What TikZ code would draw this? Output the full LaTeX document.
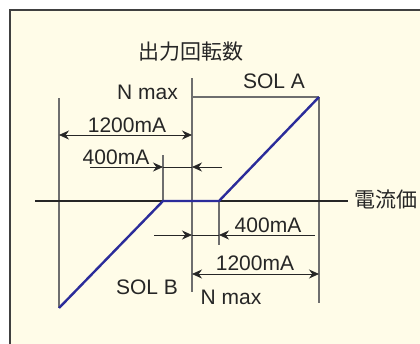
\documentclass[tikz,border=0pt]{standalone}
\usepackage{fontspec}
\setmainfont{Liberation Sans}
\newfontfamily\cjk{Noto Sans CJK JP}
\usetikzlibrary{arrows.meta}
\definecolor{bgyellow}{HTML}{FFFCE8}
\definecolor{guide}{HTML}{6E6E6E}
\definecolor{curve}{HTML}{2B2C9A}
\tikzset{
  lbl/.style={inner sep=0pt, font=\fontsize{21}{25}\selectfont, text=black!85},
  guideline/.style={draw=guide, line width=1.3pt},
  dimline/.style={draw=black!85, line width=0.8pt},
  tip/.style={-{Stealth[length=10pt,width=9pt]}},
  twotip/.style={{Stealth[length=10pt,width=9pt]}-{Stealth[length=10pt,width=9pt]}},
}
\begin{document}
\begin{tikzpicture}[x=1pt,y=-1pt]
\useasboundingbox (0,0) rectangle (420,343);
\fill[white] (0,0) rectangle (420,343);
\begin{scope}
\clip (0,0) rectangle (420,343);
\fill[bgyellow] (10,10) rectangle (440,360);
\draw[black!75, line width=1.6pt] (10,360) -- (10,10) -- (440,10);
\end{scope}
% coordinates
\coordinate (axL) at (35,201);
\coordinate (axR) at (348,201);
\coordinate (cT) at (192,78);
\coordinate (cB) at (192,292);
\coordinate (top) at (319,97);
\coordinate (topL) at (192,97);
\coordinate (rB) at (319,303);
\coordinate (lT) at (59,98);
\coordinate (bot) at (59,308);
\coordinate (p1) at (163,201);
\coordinate (p2) at (219,201);
\coordinate (p1T) at (163,155);
\coordinate (p2B) at (219,245);
% guide lines
\draw[guideline] (cT) -- (cB);
\draw[guideline] (topL) -- (top);
\draw[guideline] (top) -- (rB);
\draw[guideline] (lT) -- (bot);
\draw[guideline] (p1T) -- (p1);
\draw[guideline] (p2) -- (p2B);
\draw[draw=black!85, line width=1.1pt] (axL) -- (axR);
% curve
\draw[curve, line width=2.4pt] (bot) -- (p1) -- (p2) -- (top);
% dimension arrows
\coordinate (d1a) at (59,135); \coordinate (d1b) at (192,135);
\draw[dimline, twotip] (d1a) -- (d1b);
\coordinate (d2a) at (90,167); \coordinate (d2b) at (163,167);
\coordinate (d2c) at (222,167); \coordinate (d2d) at (192,167);
\draw[dimline, tip] (d2a) -- (d2b);
\draw[dimline] (d2b) -- (d2d);
\draw[dimline, tip] (d2c) -- (d2d);
\coordinate (d3a) at (154,235); \coordinate (d3b) at (192,235);
\coordinate (d3c) at (315,235); \coordinate (d3d) at (219,235);
\draw[dimline, tip] (d3a) -- (d3b);
\draw[dimline] (d3b) -- (d3d);
\draw[dimline, tip] (d3c) -- (d3d);
\coordinate (d4a) at (192,274); \coordinate (d4b) at (319,274);
\draw[dimline, twotip] (d4a) -- (d4b);
% labels
\node[lbl] (title) at (191,52) {\cjk 出力回転数};
\node[lbl, anchor=east] (nmax1) at (178,92) {N max};
\node[lbl] (sola) at (274,81) {SOL A};
\node[lbl] (t1200a) at (127,125) {1200mA};
\node[lbl] (t400a) at (116,157) {400mA};
\node[lbl, anchor=west] (xlab) at (354,200) {\cjk 電流価};
\node[lbl] (t400b) at (268,225) {400mA};
\node[lbl] (t1200b) at (255,263) {1200mA};
\node[lbl] (solb) at (147,287) {SOL B};
\node[lbl] (nmax2) at (231,297) {N max};
\end{tikzpicture}
\end{document}
